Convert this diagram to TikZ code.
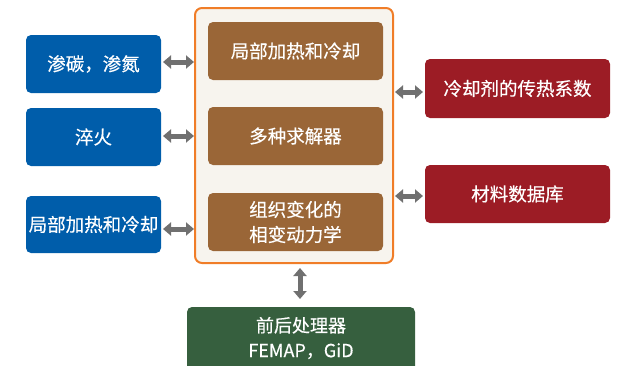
\documentclass[tikz,border=0pt]{standalone}
\usepackage{fontspec}
\setmainfont{Noto Sans CJK SC}[FakeBold=0.4,UprightFeatures={FakeBold=0.4}]
\usetikzlibrary{arrows.meta,calc}
\definecolor{cblue}{HTML}{005DAA}
\definecolor{cbrown}{HTML}{9A6637}
\definecolor{cred}{HTML}{9C1C25}
\definecolor{cgreen}{HTML}{365F3E}
\definecolor{corange}{HTML}{F07D28}
\definecolor{cbeige}{HTML}{F7F4EE}
\definecolor{carrow}{HTML}{707070}
\begin{document}
\begin{tikzpicture}[x=1pt,y=-1pt,
  box/.style={rounded corners=5pt,text=white,font=\fontsize{18.5}{25}\selectfont,align=center},
  dblarrow/.style={draw=carrow,line width=5pt,{Triangle[width=13pt,length=8pt]}-{Triangle[width=13pt,length=8pt]}}
]
\useasboundingbox (0,0) rectangle (633,365);
% container
\path[draw=corange,line width=2pt,fill=cbeige,rounded corners=7pt] (195,8) rectangle (393,263);
% blue boxes
\path[box,fill=cblue] (26,35) rectangle (161,93);
\node[box] (b1) at (93.5,64) {渗碳，渗氮};
\path[box,fill=cblue] (26,108) rectangle (161,166);
\node[box] (b2) at (93.5,137) {淬火};
\path[box,fill=cblue] (26,196) rectangle (161,253);
\node[box] (b3) at (93.5,224.5) {局部加热和冷却};
% brown boxes
\path[box,fill=cbrown] (208,22) rectangle (383,80);
\node[box] (m1) at (295.5,51) {局部加热和冷却};
\path[box,fill=cbrown] (208,107) rectangle (383,165);
\node[box] (m2) at (295.5,136) {多种求解器};
\path[box,fill=cbrown] (208,193) rectangle (383,251);
\node[box] (m3) at (295.5,222) {组织变化的\\相变动力学};
% red boxes
\path[box,fill=cred] (425,59) rectangle (610,118);
\node[box] (r1) at (517.5,88.5) {冷却剂的传热系数};
\path[box,fill=cred] (425,165) rectangle (610,223);
\node[box] (r2) at (517.5,194) {材料数据库};
% green box
\path[box,fill=cgreen] (187,307) rectangle (415,375);
\node[box,font=\fontsize{18}{25}\selectfont] (g) at (301,338) {前后处理器\\FEMAP，GiD};
% edge anchors
\coordinate (b1e) at (161,62);
\coordinate (b2e) at (161,136);
\coordinate (b3e) at (161,229);
\coordinate (cl1) at (195,62);
\coordinate (cl2) at (195,136);
\coordinate (cl3) at (195,229);
\coordinate (cr1) at (393,92);
\coordinate (cr2) at (393,196);
\coordinate (r1w) at (425,92);
\coordinate (r2w) at (425,196);
\coordinate (cb) at (300,263);
\coordinate (gt) at (300,307);
% arrows
\draw[dblarrow,shorten <=2pt,shorten >=1pt] (b1e) -- (cl1);
\draw[dblarrow,shorten <=2pt,shorten >=1pt] (b2e) -- (cl2);
\draw[dblarrow,shorten <=2pt,shorten >=1pt] (b3e) -- (cl3);
\draw[dblarrow,shorten <=2pt,shorten >=2pt] (cr1) -- (r1w);
\draw[dblarrow,shorten <=2pt,shorten >=2pt] (cr2) -- (r2w);
\draw[dblarrow,shorten <=5pt,shorten >=8pt] (cb) -- (gt);
\end{tikzpicture}
\end{document}
